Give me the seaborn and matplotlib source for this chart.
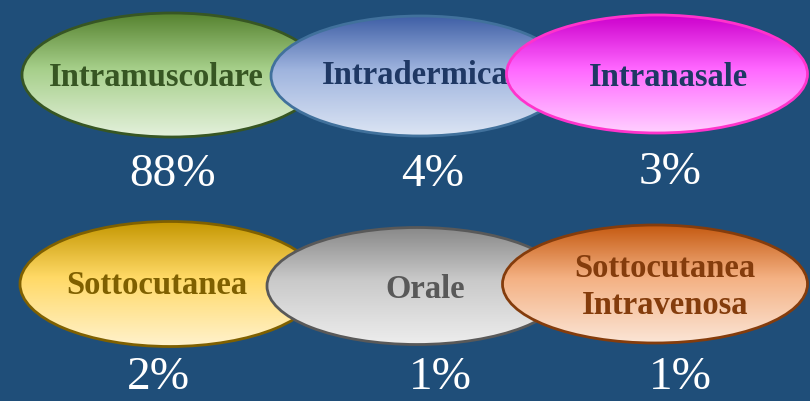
import numpy as np
import matplotlib
matplotlib.use("Agg")
import matplotlib.pyplot as plt
from matplotlib.patches import Ellipse
from matplotlib.colors import LinearSegmentedColormap
import seaborn as sns

sns.set_style("white")
plt.rcParams["font.family"] = ["Liberation Serif", "DejaVu Serif"]

# data: route of administration and share of vaccinations
routes = ["Intramuscolare", "Intradermica", "Intranasale",
          "Sottocutanea", "Orale", "Sottocutanea\nIntravenosa"]
shares = [88, 4, 3, 2, 1, 1]

# styling per bubble: gradient top / middle / bottom, edge, text colour
grad_top = ["#56822f", "#3f5fa6", "#cc00cc", "#c49600", "#888888", "#c55a11"]
grad_mid = ["#a6cf8a", "#9fb4de", "#ff66ff", "#ffd966", "#c9c9c9", "#f4b183"]
grad_bot = ["#e4f1dc", "#dce5f4", "#ffd0ff", "#fff2cc", "#ededed", "#fbe5d6"]
edges = ["#375623", "#41719c", "#ff33cc", "#7f6000", "#595959", "#843c0c"]
text_cols = ["#375623", "#1f3864", "#1f3864", "#7f6000", "#595959", "#843c0c"]

# layout (pixel grid of the 810x401 canvas)
ell_x = [172, 420, 657, 170, 417, 655]
ell_y = [75, 76, 74, 284, 286, 284]
ell_w = [300, 298, 301, 300, 300, 305]
ell_h = [124, 120, 118, 125, 117, 118]
lab_x = [156, 415, 668, 157, 425, 665]
lab_y = [77, 76, 77, 285, 289, 287]
pct_x = [173, 433, 670, 158, 440, 680]
pct_y = [175, 175, 173, 378, 378, 378]

bg = "#1f4e79"
fig = plt.figure(figsize=(8.10, 4.01), dpi=100, facecolor=bg)
ax = fig.add_axes([0, 0, 1, 1])
ax.set_facecolor(bg)
ax.set_xlim(0, 810)
ax.set_ylim(401, 0)
ax.axis("off")

for i, name in enumerate(routes):
    cx, cy, w, h = ell_x[i], ell_y[i], ell_w[i], ell_h[i]
    cmap = LinearSegmentedColormap.from_list(
        f"g{i}", [(0, grad_top[i]), (0.45, grad_mid[i]), (1, grad_bot[i])])
    patch = Ellipse((cx, cy), w, h, facecolor="none", edgecolor=edges[i],
                    lw=2, zorder=2 * i + 2)
    ax.add_patch(patch)
    grad = np.linspace(0, 1, 256).reshape(-1, 1)
    img = ax.imshow(grad, cmap=cmap, aspect="auto", origin="upper",
                    extent=(cx - w / 2, cx + w / 2, cy + h / 2, cy - h / 2),
                    zorder=2 * i + 1, interpolation="bilinear")
    img.set_clip_path(patch)
    ax.text(lab_x[i], lab_y[i], name, ha="center", va="center",
            fontsize=23.5, fontweight="bold", color=text_cols[i],
            linespacing=1.25, zorder=2 * i + 2)
    ax.text(pct_x[i], pct_y[i], f"{shares[i]}%", ha="center", va="center",
            fontsize=34, color="white", zorder=20)

ax.set_xlim(0, 810)
ax.set_ylim(401, 0)
fig.savefig("out.png", dpi=100, facecolor=bg)
